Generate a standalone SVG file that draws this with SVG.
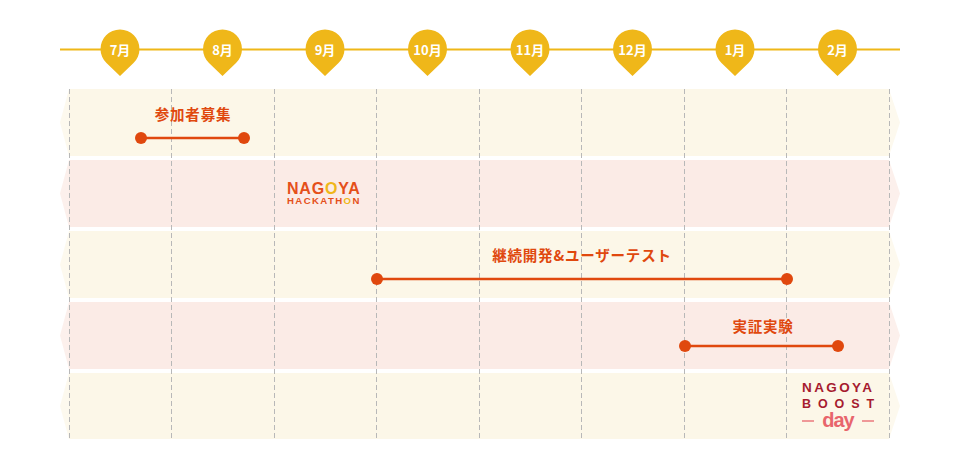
<svg xmlns="http://www.w3.org/2000/svg" width="960" height="470" viewBox="0 0 960 470">
<defs>
<style>
.rowY{fill:#fcf7e8}
.rowP{fill:#fbebe6}
.tip{opacity:0.75}
.grid{stroke:#b8b8b8;stroke-width:1;stroke-dasharray:5 3;fill:none}
.pin{fill:#efb719}
.mon{fill:#fff;font-family:"Noto Sans CJK JP","Noto Sans",sans-serif;font-weight:bold;font-size:13px;text-anchor:middle}
.lbl{fill:#e0480e;font-family:"Noto Sans CJK JP","Noto Sans",sans-serif;font-weight:bold;font-size:14.5px;text-anchor:middle;letter-spacing:0.8px}
.bar{stroke:#e0480e;stroke-width:2.5;fill:none}
.dot{fill:#e0480e}
.lat{font-family:"Liberation Sans",Arial,sans-serif;font-weight:bold}
</style>
</defs>
<rect width="960" height="470" fill="#fff"/>
<g id="rows">
<g id="row1"><rect class="rowY" x="69" y="89" width="820" height="67"/><path class="rowY tip" d="M69,89 L60,122.5 L69,156 Z M889,89 L900,122.5 L889,156 Z"/></g>
<g id="row2"><rect class="rowP" x="69" y="160" width="820" height="67"/><path class="rowP tip" d="M69,160 L60,193.5 L69,227 Z M889,160 L900,193.5 L889,227 Z"/></g>
<g id="row3"><rect class="rowY" x="69" y="231" width="820" height="67"/><path class="rowY tip" d="M69,231 L60,264.5 L69,298 Z M889,231 L900,264.5 L889,298 Z"/></g>
<g id="row4"><rect class="rowP" x="69" y="302" width="820" height="67"/><path class="rowP tip" d="M69,302 L60,335.5 L69,369 Z M889,302 L900,335.5 L889,369 Z"/></g>
<g id="row5"><rect class="rowY" x="69" y="373" width="820" height="66"/><path class="rowY tip" d="M69,373 L60,406 L69,439 Z M889,373 L900,406 L889,439 Z"/></g>
</g>
<g id="grid">
<line class="grid" x1="69.5" y1="89" x2="69.5" y2="439"/>
<line class="grid" x1="171.5" y1="89" x2="171.5" y2="439"/>
<line class="grid" x1="274.5" y1="89" x2="274.5" y2="439"/>
<line class="grid" x1="376.5" y1="89" x2="376.5" y2="439"/>
<line class="grid" x1="479.5" y1="89" x2="479.5" y2="439"/>
<line class="grid" x1="581.5" y1="89" x2="581.5" y2="439"/>
<line class="grid" x1="684.5" y1="89" x2="684.5" y2="439"/>
<line class="grid" x1="786.5" y1="89" x2="786.5" y2="439"/>
<line class="grid" x1="889.5" y1="89" x2="889.5" y2="439"/>
</g>
<g id="timeline">
<line x1="60" y1="49.5" x2="900" y2="49.5" stroke="#efb719" stroke-width="2"/>
<g id="m7"><path class="pin" d="M120,76 L106.5,63.1 A19.5,19.5 0 1 1 133.5,63.1 Z"/><text class="mon" x="120" y="54.5">7月</text></g>
<g id="m8"><path class="pin" d="M222.5,76 L209,63.1 A19.5,19.5 0 1 1 236,63.1 Z"/><text class="mon" x="222.5" y="54.5">8月</text></g>
<g id="m9"><path class="pin" d="M325,76 L311.5,63.1 A19.5,19.5 0 1 1 338.5,63.1 Z"/><text class="mon" x="325" y="54.5">9月</text></g>
<g id="m10"><path class="pin" d="M427.5,76 L414,63.1 A19.5,19.5 0 1 1 441,63.1 Z"/><text class="mon" x="427.5" y="54.5">10月</text></g>
<g id="m11"><path class="pin" d="M530,76 L516.5,63.1 A19.5,19.5 0 1 1 543.5,63.1 Z"/><text class="mon" x="530" y="54.5">11月</text></g>
<g id="m12"><path class="pin" d="M632.5,76 L619,63.1 A19.5,19.5 0 1 1 646,63.1 Z"/><text class="mon" x="632.5" y="54.5">12月</text></g>
<g id="m1"><path class="pin" d="M735,76 L721.5,63.1 A19.5,19.5 0 1 1 748.5,63.1 Z"/><text class="mon" x="735" y="54.5">1月</text></g>
<g id="m2"><path class="pin" d="M837.5,76 L824,63.1 A19.5,19.5 0 1 1 851,63.1 Z"/><text class="mon" x="837.5" y="54.5">2月</text></g>
</g>
<g id="bar1">
<text class="lbl" x="193" y="119.5">参加者募集</text>
<line class="bar" x1="141" y1="138" x2="244" y2="138"/>
<circle class="dot" cx="141" cy="138" r="6"/><circle class="dot" cx="244" cy="138" r="6"/>
</g>
<g id="hackathon">
<text class="lat" x="287" y="193.5" font-size="16" letter-spacing="0.8" fill="#e5501a">NAG<tspan fill="#efb719">O</tspan>YA</text>
<text class="lat" x="287" y="204" font-size="9.6" letter-spacing="1.4" fill="#e5501a">HACKATH<tspan fill="#efb719">O</tspan>N</text>
</g>
<g id="bar3">
<text class="lbl" x="582" y="260.5">継続開発&amp;ユーザーテスト</text>
<line class="bar" x1="377" y1="279" x2="787" y2="279"/>
<circle class="dot" cx="377" cy="279" r="6"/><circle class="dot" cx="787" cy="279" r="6"/>
</g>
<g id="bar4">
<text class="lbl" x="763" y="332">実証実験</text>
<line class="bar" x1="685" y1="346" x2="838" y2="346"/>
<circle class="dot" cx="685" cy="346" r="6"/><circle class="dot" cx="838" cy="346" r="6"/>
</g>
<g id="boostday">
<text class="lat" x="802" y="392" font-size="13.5" letter-spacing="2.4" fill="#a61b2f">NAGOYA</text>
<text class="lat" x="802" y="408" font-size="12.5" letter-spacing="6.9" fill="#a61b2f">BOOST</text>
<line x1="802" y1="421" x2="814" y2="421" stroke="#e8656c" stroke-width="1.3"/>
<line x1="862" y1="421" x2="874" y2="421" stroke="#e8656c" stroke-width="1.3"/>
<text class="lat" x="838" y="427" font-size="20" fill="#e8656c" text-anchor="middle" letter-spacing="-1">day</text>
</g>
</svg>
